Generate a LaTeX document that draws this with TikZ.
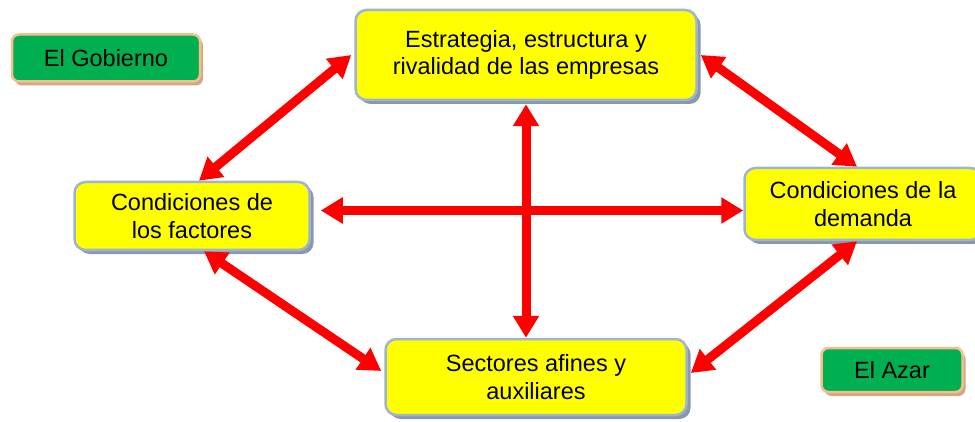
\documentclass[tikz,border=0pt]{standalone}
\usepackage{fontspec}
\setmainfont{Liberation Sans}
\usetikzlibrary{positioning,calc,arrows.meta,shadows}
\tikzset{font=\fontsize{23.5}{27.5}\selectfont}
\definecolor{amarillo}{HTML}{FFFF00}
\definecolor{bordeazul}{HTML}{9DB4D6}
\definecolor{sombraazul}{HTML}{8A98AC}
\definecolor{verde}{HTML}{00B050}
\definecolor{bordeverde}{HTML}{F6BE8E}
\definecolor{sombraverde}{HTML}{D2A884}
\definecolor{rojo}{HTML}{FF0000}

\begin{document}
\begin{tikzpicture}[x=1pt, y=1pt]
	\useasboundingbox (0, 0) rectangle (975, 421);
	\begin{scope}
		\tikzstyle{every node}=[align=center, inner sep=1pt]
		\tikzstyle{caja}=[draw=bordeazul, line width=2.5pt, fill=amarillo, rounded corners=11pt,
			drop shadow={shadow xshift=4pt, shadow yshift=-4pt, fill=sombraazul, opacity=1}]
		\tikzstyle{cajaverde}=[draw=bordeverde, line width=2.5pt, fill=verde, rounded corners=7pt,
			drop shadow={shadow xshift=3pt, shadow yshift=-4pt, fill=sombraverde, opacity=1}]
		\tikzstyle{flecha}=[draw=rojo, line width=9pt,
			{Triangle[length=22pt, width=25pt]}-{Triangle[length=22pt, width=25pt]}]

		\node[caja, minimum width=341pt, minimum height=90pt] (estr) at (526, 366) {Estrategia, estructura y\\rivalidad de las empresas};
		\node[caja, minimum width=235pt, minimum height=68pt] (fact) at (192, 205) {Condiciones de\\los factores};
		\node[caja, minimum width=237pt, minimum height=72pt] (dem) at (863, 217) {Condiciones de la\\demanda};
		\node[caja, minimum width=301pt, minimum height=76pt] (sect) at (536, 44) {Sectores afines y\\auxiliares};
		\node[cajaverde, minimum width=188pt, minimum height=47pt] (gob) at (106, 363) {El Gobierno};
		\node[cajaverde, minimum width=141pt, minimum height=44pt] (azar) at (892, 51) {El Azar};

		\draw[flecha] ([xshift=-3pt]estr.west) -- ([xshift=7pt]fact.north);
		\draw[flecha] ([xshift=3pt]estr.east) -- ([xshift=-6pt]dem.north);
		\draw[flecha] ([xshift=10pt, yshift=5.5pt]fact.east) -- ([yshift=5.5pt]fact.east -| dem.west);
		\draw[flecha] ([yshift=-3pt]estr.south) -- (estr.south |- sect.north);
		\draw[flecha] ([xshift=12pt]fact.south) -- ([xshift=-3pt, yshift=6pt]sect.west);
		\draw[flecha] ([xshift=-6pt]dem.south) -- ([xshift=3pt, yshift=4pt]sect.east);

	\end{scope}
\end{tikzpicture}
\end{document}
